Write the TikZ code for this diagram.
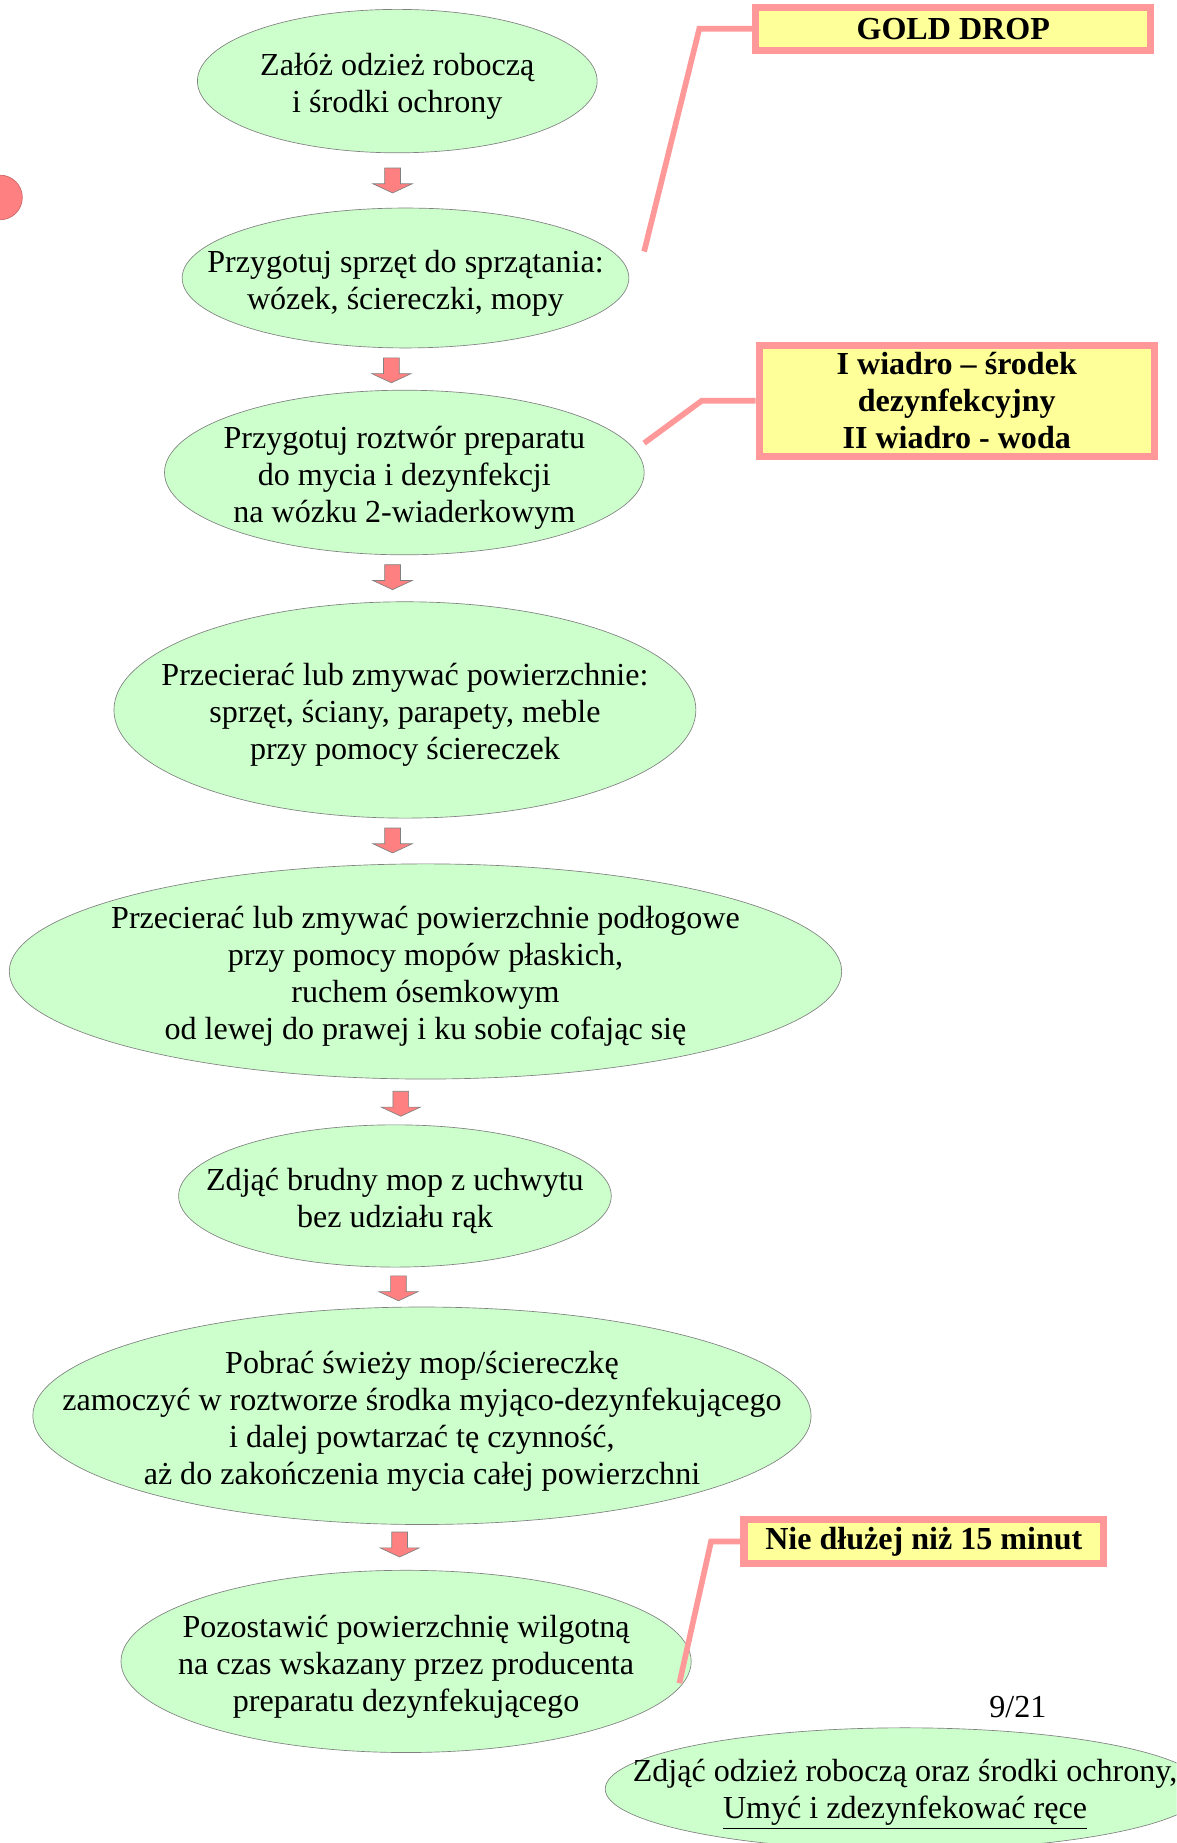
\documentclass[tikz,border=0pt]{standalone}
\usepackage{fontspec}
\setmainfont{Liberation Serif}
\usepackage{tikz}
\usetikzlibrary{shapes.geometric,shapes.arrows}

\definecolor{stepgreen}{HTML}{CCFFCC}
\definecolor{notefill}{HTML}{FFFF99}
\definecolor{notepink}{HTML}{FF9999}
\definecolor{arrowred}{HTML}{FF8080}

\begin{document}
\begin{tikzpicture}[x=0.025cm, y=-0.025cm,
        every node/.style={font=\fontsize{19.4}{22.4}\selectfont},
        every text node part/.style={align=center},
        stepbox/.style={ellipse, draw=gray, fill=stepgreen, inner sep=0pt},
        steptext/.style={yshift=-0.11cm},
        notebox/.style={draw=notepink, line width=0.15cm, fill=notefill, inner sep=0pt,
            font=\fontsize{19.4}{22.4}\selectfont\bfseries},
        flowarrow/.style={single arrow, draw=gray, fill=arrowred, rotate=-90, inner sep=0.16cm,
            minimum height=0.53cm, minimum width=0.65cm, single arrow tip angle=130},
        noteline/.style={notepink, line width=0.12cm}]
            \useasboundingbox (0, 0) rectangle (1001, 1568);
            \clip (0, 0) rectangle (1001, 1568);

            \node[circle, draw=arrowred!80!black, fill=arrowred, minimum size=0.95cm] (dot) at (0, 168) {};

            % steps
            \node[stepbox, minimum width=8.5cm, minimum height=3.05cm] (s1) at (338, 69) {};
            \node[steptext] (s1t) at (s1) {Załóż odzież roboczą\\i środki ochrony};
            \node[stepbox, minimum width=9.5cm, minimum height=2.975cm] (s2) at (345, 236.5) {};
            \node[steptext] (s2t) at (s2) {Przygotuj sprzęt do sprzątania:\\wózek, ściereczki, mopy};
            \node[stepbox, minimum width=10.2cm, minimum height=3.5cm] (s3) at (344, 402) {};
            \node[steptext] (s3t) at (s3) {Przygotuj roztwór preparatu\\do mycia i dezynfekcji\\na wózku 2-wiaderkowym};
            \node[stepbox, minimum width=12.375cm, minimum height=4.6cm] (s4) at (344.5, 604) {};
            \node[steptext] (s4t) at (s4) {Przecierać lub zmywać powierzchnie:\\sprzęt, ściany, parapety, meble\\przy pomocy ściereczek};
            \node[stepbox, minimum width=17.7cm, minimum height=4.575cm] (s5) at (362, 826.5) {};
            \node[steptext] (s5t) at (s5) {Przecierać lub zmywać powierzchnie podłogowe\\przy pomocy mopów płaskich,\\ruchem ósemkowym\\od lewej do prawej i ku sobie cofając się};
            \node[stepbox, minimum width=9.2cm, minimum height=3.025cm] (s6) at (336, 1017.5) {};
            \node[steptext] (s6t) at (s6) {Zdjąć brudny mop z uchwytu\\bez udziału rąk};
            \node[stepbox, minimum width=16.55cm, minimum height=4.625cm] (s7) at (359, 1204.5) {};
            \node[steptext] (s7t) at (s7) {Pobrać świeży mop/ściereczkę\\zamoczyć w roztworze środka myjąco-dezynfekującego\\i dalej powtarzać tę czynność,\\aż do zakończenia mycia całej powierzchni};
            \node[stepbox, minimum width=12.125cm, minimum height=3.875cm] (s8) at (345.5, 1413.5) {};
            \node[steptext] (s8t) at (s8) {Pozostawić powierzchnię wilgotną\\na czas wskazany przez producenta\\preparatu dezynfekującego};
            \node[stepbox, minimum width=12.75cm, minimum height=2.6cm] (s9) at (770, 1522) {};
            \node[steptext] (s9t) at (s9) {Zdjąć odzież roboczą oraz środki ochrony,\\\underline{Umyć i zdezynfekować ręce}};

            \node (page) at (866, 1452) {9/21};

            % arrows between steps
            \node[flowarrow] (a1) at (334, 152) {};
            \node[flowarrow] (a2) at (333, 313.5) {};
            \node[flowarrow] (a3) at (334, 489.5) {};
            \node[flowarrow] (a4) at (334, 713.5) {};
            \node[flowarrow] (a5) at (341, 937.5) {};
            \node[flowarrow] (a6) at (339, 1094.5) {};
            \node[flowarrow] (a7) at (340, 1312.5) {};

            % notes
            \node[notebox, minimum width=8.4cm, minimum height=0.925cm] (n1) at (811, 24.5) {GOLD DROP};
            \node[notebox, minimum width=8.4cm, minimum height=2.35cm] (n2) at (814, 341) {I wiadro – środek\\dezynfekcyjny\\II wiadro - woda};
            \node[notebox, minimum width=7.65cm, minimum height=0.925cm] (n3) at (786, 1311.5) {Nie dłużej niż 15 minut};

            \coordinate (c1) at (548, 214);
            \coordinate (c2) at (548, 377);
            \coordinate (c3) at (578, 1432);
            \draw[noteline] (n1.west) -- ++(-45, 0) -- (c1);
            \draw[noteline] (n2.west) -- ++(-46, 0) -- (c2);
            \draw[noteline] (n3.west) -- ++(-25, 0) -- (c3);
        \end{tikzpicture}
\end{document}
